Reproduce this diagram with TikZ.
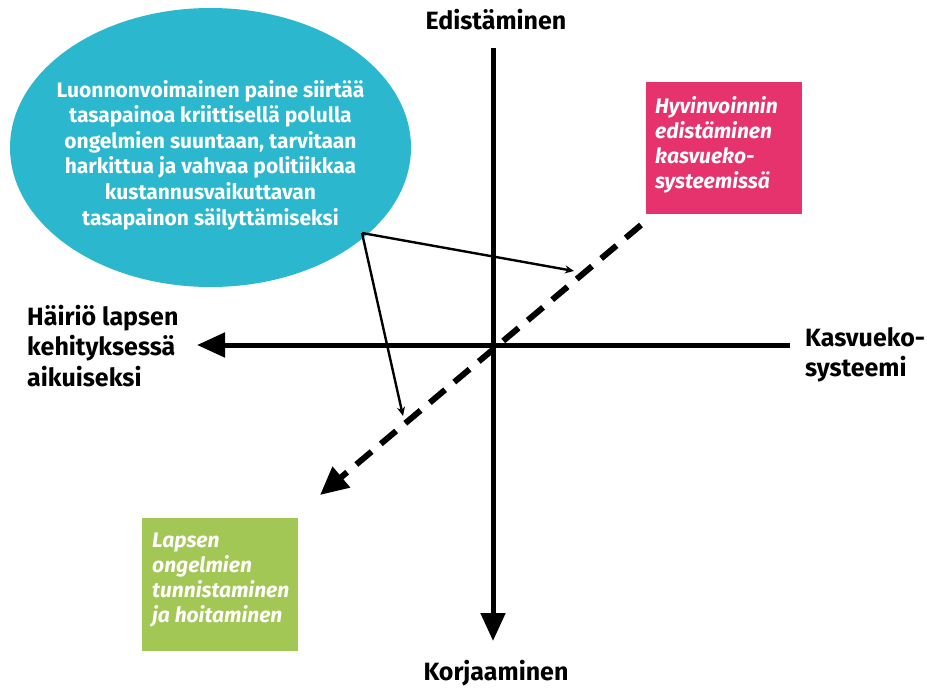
\documentclass[tikz,border=0pt]{standalone}
\usepackage{fontspec}
\setmainfont{Fira Sans}
\usetikzlibrary{arrows.meta,shapes.geometric}
\definecolor{cyanb}{HTML}{2BB8CE}
\definecolor{pinkb}{HTML}{E6336E}
\definecolor{greenb}{HTML}{A3C754}
\tikzset{
  axis/.style={line width=5pt,-{Triangle[length=28pt,width=24pt]}},
  dashaxis/.style={line width=6pt,dash pattern=on 20pt off 12pt,-{Triangle[length=28pt,width=26pt]}},
  thinarr/.style={line width=2.4pt,-{Stealth[length=9pt,width=8pt]}},
  lbl/.style={font=\fontsize{25}{30.5}\selectfont\bfseries,inner sep=0pt},
  boxtext/.style={font=\fontsize{21}{25}\selectfont\bfseries\itshape,text=white,align=left,anchor=north west,inner sep=0pt},
}
\begin{document}
\begin{tikzpicture}[x=1pt,y=-1pt]
\useasboundingbox (0,0) rectangle (927,691);
% ellipse
\node[ellipse,fill=cyanb,minimum width=401pt,minimum height=279pt,inner sep=0pt] (ell) at (210.5,147.5) {};
\node[font=\fontsize{21}{25.6}\selectfont\bfseries,text=white,align=center,inner sep=0pt] (elltext) at (210.5,155)
 {Luonnonvoimainen paine siirtää\\tasapainoa kriittisellä polulla\\ongelmien suuntaan, tarvitaan\\harkittua ja vahvaa politiikkaa\\kustannusvaikuttavan\\tasapainon säilyttämiseksi};
% boxes
\fill[pinkb] (646,82) rectangle (802,214);
\node[boxtext] (pinkt) at (655,96) {Hyvinvoinnin\\edistäminen\\kasvueko-\\systeemissä};
\fill[greenb] (142,518) rectangle (298,651);
\node[boxtext] (greent) at (152,533) {Lapsen\\ongelmien\\tunnistaminen\\ja hoitaminen};
% axes
\coordinate (vtop) at (493,48);
\coordinate (vbot) at (493,641);
\coordinate (hr) at (790,345);
\coordinate (hl) at (197,345);
\coordinate (dtop) at (641,225);
\coordinate (dbot) at (320,495);
\draw[axis] (vtop) -- (vbot);
\draw[axis] (hr) -- (hl);
\draw[dashaxis] (dtop) -- (dbot);
% thin arrows
\coordinate (src) at (362,233);
\coordinate (t1) at (574,271);
\coordinate (t2) at (403,416);
\draw[thinarr] (src) -- (t1);
\draw[thinarr] (src) -- (t2);
% labels
\node[lbl] (ed) at (496,20) {Edistäminen};
\node[lbl] (ko) at (496,673) {Korjaaminen};
\node[lbl,align=left,anchor=west] (ha) at (27,346) {Häiriö lapsen\\kehityksessä\\aikuiseksi};
\node[lbl,align=left,anchor=west] (ka) at (805,355) {Kasvueko-\\systeemi};
\end{tikzpicture}
\end{document}
